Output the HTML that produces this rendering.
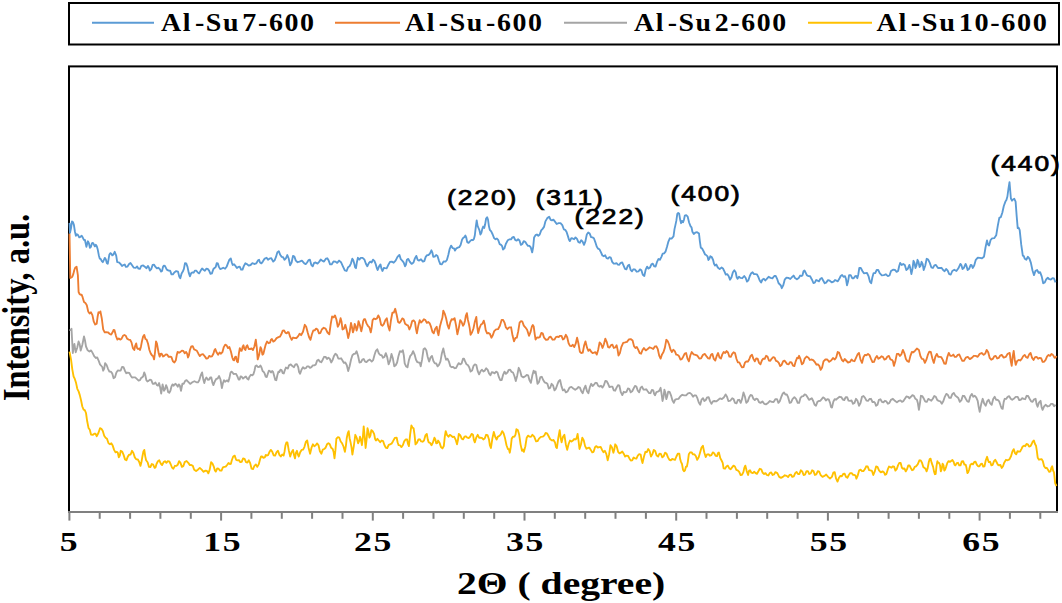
<!DOCTYPE html>
<html><head><meta charset="utf-8"><style>
html,body{margin:0;padding:0;background:#fff;width:1062px;height:603px;overflow:hidden}
svg{display:block}
.tl{font-family:"Liberation Serif",serif;font-weight:bold;font-size:26px;fill:#000}
.lg{font-family:"Liberation Serif",serif;font-weight:bold;font-size:26px;fill:#000;letter-spacing:1.5px;word-spacing:-6px}
.pk{font-family:"Liberation Sans",sans-serif;font-weight:normal;font-size:22px;fill:#000;stroke:#000;stroke-width:0.75px;letter-spacing:1.6px}
</style></head><body>
<svg width="1062" height="603" viewBox="0 0 1062 603">
<rect x="0" y="0" width="1062" height="603" fill="#fff"/>
<!-- legend -->
<rect x="69" y="3" width="990" height="41.5" fill="none" stroke="#000" stroke-width="2"/>
<line x1="92" y1="22.7" x2="154" y2="22.7" stroke="#5B9BD5" stroke-width="2"/>
<line x1="335" y1="22.7" x2="400" y2="22.7" stroke="#ED7D31" stroke-width="2"/>
<line x1="564" y1="22.7" x2="627" y2="22.7" stroke="#A5A5A5" stroke-width="2"/>
<line x1="808" y1="22.7" x2="872" y2="22.7" stroke="#FFC000" stroke-width="2"/>
<g class="lg">
<text transform="translate(161 31) scale(1.077 1)">Al<tspan dx="2.5">-Su</tspan> 7-600</text>
<text transform="translate(405 31) scale(1.072 1)">Al<tspan dx="2.5">-Su</tspan> -600</text>
<text transform="translate(634 31) scale(1.07 1)">Al<tspan dx="2.5">-Su</tspan> 2-600</text>
<text transform="translate(876.5 31) scale(1.088 1)">Al<tspan dx="2.5">-Su</tspan> 10-600</text>
</g>
<!-- plot frame -->
<rect x="69" y="66.4" width="988" height="445.6" fill="none" stroke="#000" stroke-width="2"/>
<path d="M69.5 351.6 L71.1 359.9 L72.3 369.3 L73.6 376.5 L74.8 378.9 L76.1 383.1 L77.3 388.8 L78.6 391.4 L79.8 395.1 L81.1 400.5 L82.3 406.5 L83.6 409.7 L84.8 410.2 L86.0 413.0 L87.2 421.3 L88.5 427.9 L89.8 429.8 L91.0 434.5 L92.7 434.9 L94.3 433.7 L95.5 433.7 L96.8 436.2 L98.4 433.0 L100.0 428.2 L101.4 428.8 L102.8 431.1 L104.2 435.7 L105.6 437.7 L107.0 438.8 L108.5 443.3 L109.9 444.2 L111.3 443.3 L112.7 445.6 L114.1 449.9 L115.5 452.4 L116.9 451.8 L117.8 452.7 L118.8 457.4 L119.8 455.5 L120.7 450.8 L122.1 451.5 L123.5 454.6 L125.0 459.4 L126.4 460.3 L127.8 456.6 L129.2 454.6 L130.6 454.5 L132.0 450.8 L133.4 453.0 L134.8 457.4 L136.2 459.3 L137.7 459.3 L139.1 461.7 L140.5 465.9 L141.4 462.3 L142.4 456.5 L143.4 451.5 L144.3 449.9 L145.2 456.1 L146.1 460.3 L147.6 462.2 L149.0 466.9 L150.4 467.0 L151.8 464.0 L153.2 464.7 L154.6 467.8 L155.6 467.3 L156.5 464.0 L157.9 461.3 L159.3 460.3 L160.7 463.5 L162.1 465.0 L163.6 462.1 L165.0 461.2 L166.4 462.8 L167.8 461.2 L169.2 461.3 L170.6 464.0 L172.0 467.5 L173.4 468.7 L174.9 465.8 L176.3 465.9 L177.7 464.8 L179.1 461.2 L180.5 462.9 L181.9 466.9 L183.3 466.2 L184.7 462.1 L186.6 461.0 L188.5 463.1 L189.9 465.1 L191.3 465.0 L192.8 465.9 L194.2 469.7 L196.1 471.1 L197.9 469.7 L199.8 467.9 L201.7 469.7 L203.6 471.8 L205.5 470.6 L206.9 470.9 L208.3 473.4 L209.7 469.7 L211.1 462.1 L212.5 463.6 L213.9 466.9 L214.9 470.5 L215.8 471.6 L217.2 468.5 L218.6 468.7 L220.1 470.6 L221.5 470.6 L222.9 467.4 L224.3 466.9 L225.7 466.7 L227.1 465.0 L228.5 462.9 L229.9 464.0 L230.9 463.8 L231.8 460.3 L233.2 456.5 L234.7 455.6 L236.1 459.8 L237.5 460.3 L238.9 460.1 L240.3 462.1 L241.7 461.8 L243.1 458.4 L244.6 458.8 L246.0 462.1 L247.4 462.6 L248.8 460.3 L250.2 463.2 L251.6 468.7 L253.0 469.1 L254.4 465.9 L255.9 464.5 L257.3 466.9 L258.7 464.4 L260.1 459.3 L261.1 456.4 L262.0 456.5 L263.4 457.8 L264.8 457.4 L265.8 454.9 L266.7 455.6 L268.1 455.2 L269.5 451.8 L270.9 449.9 L272.3 451.8 L273.7 455.4 L275.1 455.6 L276.6 452.1 L278.0 450.8 L279.4 454.9 L280.8 456.5 L282.2 454.5 L283.6 455.6 L284.6 451.2 L285.5 445.2 L286.4 442.5 L287.4 442.4 L288.8 450.4 L290.2 456.5 L291.6 452.3 L293.0 449.9 L294.0 455.0 L295.0 458.4 L295.9 452.9 L296.9 450.8 L297.9 454.6 L298.8 456.5 L300.2 452.2 L301.6 449.9 L303.0 449.7 L304.4 447.1 L305.8 442.0 L307.2 440.5 L308.6 447.9 L310.1 453.7 L311.5 447.7 L312.9 444.3 L314.3 446.2 L315.7 445.2 L317.1 443.4 L318.5 445.2 L319.9 451.2 L321.4 453.7 L322.8 449.6 L324.2 449.0 L325.6 447.7 L327.0 444.3 L328.4 443.1 L329.8 444.3 L331.2 447.8 L332.7 449.0 L333.6 451.9 L334.5 458.4 L335.4 450.4 L336.4 438.6 L337.9 437.2 L339.3 437.7 L340.7 441.5 L342.1 443.3 L343.5 446.5 L344.9 451.8 L345.9 445.8 L346.8 437.7 L347.8 433.1 L348.7 431.1 L349.6 438.2 L350.6 442.4 L351.5 447.4 L352.4 454.6 L353.9 445.5 L355.3 434.8 L356.7 437.8 L358.1 443.3 L359.1 441.2 L360.0 436.7 L360.9 439.5 L361.9 445.2 L362.8 437.7 L363.7 426.4 L364.6 435.6 L365.6 448.0 L366.6 439.5 L367.5 428.2 L368.4 431.5 L369.4 437.7 L370.4 435.5 L371.3 430.1 L372.7 431.2 L374.1 433.9 L375.1 439.0 L376.0 440.5 L377.4 438.8 L378.8 440.5 L380.2 442.3 L381.6 440.5 L383.1 441.1 L384.5 445.2 L385.9 447.8 L387.3 448.0 L388.7 444.9 L390.1 444.3 L391.5 443.7 L392.9 441.4 L394.8 438.0 L396.7 437.7 L397.6 442.3 L398.6 445.2 L400.0 445.3 L401.4 447.1 L402.8 445.3 L404.2 441.4 L405.6 439.5 L407.1 439.5 L408.0 444.0 L408.9 446.1 L410.1 434.9 L411.4 425.4 L412.5 427.6 L413.6 428.2 L414.6 435.3 L415.5 444.3 L416.9 442.8 L418.4 439.5 L419.8 439.3 L421.2 441.4 L422.6 441.7 L424.0 440.5 L425.4 435.4 L426.8 433.9 L427.8 439.6 L428.7 442.4 L430.1 442.9 L431.5 445.2 L432.9 442.5 L434.4 437.7 L435.3 439.3 L436.2 443.3 L437.1 443.1 L438.1 440.5 L439.6 442.9 L441.0 447.1 L442.4 448.4 L443.8 446.1 L444.8 436.7 L445.7 431.1 L447.1 435.2 L448.5 436.7 L449.9 434.9 L451.3 435.8 L452.7 437.1 L454.1 436.7 L455.6 439.6 L457.0 444.3 L457.9 440.3 L458.8 433.9 L460.2 435.2 L461.7 438.6 L463.1 439.4 L464.5 436.7 L465.9 436.3 L467.3 437.7 L468.7 438.0 L470.1 436.7 L471.6 433.9 L473.0 434.8 L473.9 440.0 L474.8 442.4 L476.2 437.7 L477.7 434.8 L479.1 437.7 L480.5 437.7 L481.9 437.8 L483.3 439.5 L484.7 438.5 L486.1 434.8 L487.6 435.2 L489.0 439.5 L489.9 445.5 L490.9 448.0 L492.4 438.4 L493.8 432.0 L495.2 436.8 L496.6 439.5 L498.0 436.5 L499.4 435.8 L500.8 434.4 L502.2 431.1 L503.6 433.2 L505.1 438.6 L506.5 445.2 L507.9 449.0 L508.9 449.2 L509.8 452.7 L510.8 446.8 L511.7 438.6 L513.1 436.6 L514.5 436.7 L515.5 434.7 L516.4 429.2 L517.8 430.1 L519.2 434.8 L520.6 444.6 L522.0 450.8 L523.0 449.6 L523.9 451.8 L525.3 446.5 L526.7 437.7 L528.1 435.6 L529.5 436.7 L531.0 436.8 L532.4 434.8 L534.2 436.7 L536.1 441.4 L537.5 441.2 L539.0 438.6 L540.9 436.9 L542.7 436.7 L544.2 435.6 L545.6 433.0 L547.0 433.3 L548.4 435.8 L550.2 439.2 L552.1 440.5 L553.5 439.9 L555.0 442.4 L556.0 447.1 L556.9 448.0 L558.3 437.8 L559.7 430.1 L560.7 438.1 L561.6 442.4 L563.0 436.7 L564.4 434.8 L565.8 444.2 L567.2 449.9 L568.6 444.0 L570.0 440.5 L571.5 441.5 L572.9 440.5 L574.3 439.0 L575.7 439.5 L576.7 437.7 L577.6 433.9 L578.5 440.5 L579.5 449.0 L580.9 444.8 L582.3 437.7 L583.7 440.1 L585.1 446.1 L586.5 448.8 L587.9 448.0 L589.3 447.6 L590.8 449.9 L592.2 452.4 L593.6 451.8 L595.0 447.2 L596.4 446.1 L597.8 447.5 L599.2 447.1 L600.7 447.0 L602.1 449.9 L603.5 452.2 L604.9 450.8 L606.3 453.9 L607.7 460.3 L609.1 454.4 L610.5 445.2 L612.0 447.6 L613.4 452.7 L614.3 449.5 L615.2 444.3 L616.7 446.4 L618.1 451.8 L619.5 453.4 L620.9 452.7 L622.3 451.5 L623.7 453.7 L625.1 456.6 L626.5 455.6 L628.0 455.8 L629.4 458.4 L630.8 460.6 L632.2 460.3 L633.6 457.5 L635.0 458.4 L636.4 458.6 L637.8 455.6 L639.2 454.1 L640.7 454.6 L641.6 459.8 L642.5 463.1 L644.0 456.5 L645.4 451.8 L646.8 452.2 L648.2 449.0 L649.6 451.0 L651.0 456.5 L652.4 454.1 L653.8 449.9 L655.2 451.0 L656.7 455.6 L658.1 456.6 L659.5 453.7 L660.9 454.0 L662.3 457.4 L663.7 456.2 L665.1 452.7 L666.5 453.6 L668.0 457.4 L669.4 459.8 L670.8 460.3 L672.2 459.0 L673.6 459.3 L675.0 459.8 L676.4 456.5 L677.8 453.6 L679.3 453.7 L680.2 459.3 L681.1 462.1 L682.0 464.0 L683.0 469.7 L684.0 471.3 L685.0 470.3 L686.0 466.6 L686.9 466.5 L687.8 462.1 L688.8 454.3 L690.2 452.3 L691.6 452.4 L693.0 454.4 L694.4 454.3 L695.8 456.0 L697.2 459.9 L698.7 457.2 L700.1 452.4 L701.5 447.6 L702.9 445.8 L704.3 452.5 L705.7 457.1 L707.1 454.4 L708.5 454.3 L710.0 455.7 L711.4 455.2 L712.8 452.4 L714.2 453.3 L715.6 455.9 L717.0 456.1 L718.0 453.0 L718.9 452.4 L720.3 458.1 L721.7 460.8 L722.7 462.8 L723.6 468.4 L725.0 468.7 L726.4 466.5 L727.8 465.6 L729.3 468.4 L730.7 469.3 L732.1 467.4 L733.5 465.6 L734.9 466.5 L736.3 469.8 L737.7 470.3 L739.2 471.9 L740.6 475.0 L742.0 474.8 L743.4 472.1 L744.3 467.9 L745.3 465.6 L746.7 471.1 L748.1 475.0 L749.0 470.9 L750.0 470.3 L751.4 472.7 L752.8 473.1 L754.2 471.8 L755.6 473.1 L757.0 473.8 L758.4 471.2 L759.8 468.8 L761.3 469.3 L762.7 472.8 L764.1 474.0 L765.5 473.1 L766.9 475.0 L768.3 475.5 L769.7 473.1 L771.2 472.4 L772.6 475.0 L774.0 474.4 L775.4 472.1 L777.3 473.1 L779.2 476.9 L781.0 477.9 L782.9 476.9 L784.8 475.3 L786.7 475.9 L788.1 477.1 L789.5 475.0 L790.9 474.6 L792.3 476.9 L793.8 476.4 L795.2 473.1 L796.6 471.9 L798.0 474.0 L799.4 474.0 L800.8 470.3 L802.2 471.4 L803.6 475.0 L805.0 474.6 L806.5 471.2 L807.9 471.2 L809.3 474.0 L810.7 473.5 L812.1 470.3 L813.5 471.1 L814.9 475.0 L816.3 474.4 L817.8 471.2 L819.2 471.7 L820.6 475.0 L822.5 476.8 L824.4 475.9 L826.2 474.5 L828.1 476.9 L830.0 478.5 L831.9 476.9 L833.3 472.7 L834.7 472.1 L836.1 478.7 L837.5 481.6 L839.0 477.7 L840.4 475.9 L841.8 476.4 L843.2 474.0 L844.6 473.6 L846.0 476.9 L847.4 477.7 L848.8 475.0 L850.2 473.1 L851.7 473.1 L853.1 474.9 L854.5 475.0 L855.5 475.6 L856.4 478.7 L857.8 475.3 L859.2 470.3 L860.6 469.7 L862.0 471.2 L863.4 471.1 L864.8 469.3 L866.2 466.3 L867.7 466.5 L869.1 470.1 L870.5 470.3 L871.9 470.8 L873.3 475.0 L874.7 471.7 L876.1 466.5 L877.5 466.8 L879.0 470.3 L880.8 472.4 L882.6 471.4 L883.9 472.2 L885.1 474.8 L886.4 474.1 L887.7 469.7 L889.0 466.5 L890.3 467.1 L891.6 467.7 L892.9 466.3 L894.1 466.6 L895.4 470.6 L896.7 469.2 L898.0 465.4 L899.3 462.8 L900.6 462.8 L901.9 467.7 L903.1 468.8 L904.4 468.4 L905.7 471.4 L907.0 469.3 L908.3 465.4 L909.5 465.4 L910.8 468.0 L912.1 470.2 L913.4 469.7 L914.7 466.8 L916.0 466.3 L917.7 464.3 L919.4 460.3 L920.7 460.4 L922.0 462.8 L923.3 467.0 L924.6 468.0 L925.6 468.9 L926.6 471.4 L927.7 468.1 L928.8 462.0 L929.7 459.0 L930.6 458.6 L931.5 462.4 L932.3 464.6 L933.1 466.9 L934.0 471.4 L934.9 474.2 L935.7 474.0 L936.5 466.2 L937.4 461.1 L938.2 462.8 L939.1 462.8 L940.0 465.2 L940.8 471.4 L941.7 469.2 L942.6 463.7 L943.5 465.2 L944.3 470.6 L945.1 469.7 L946.0 467.1 L947.3 463.0 L948.6 461.1 L949.9 461.9 L951.1 461.1 L952.4 459.9 L953.7 462.0 L954.5 464.8 L955.4 465.4 L956.7 463.2 L958.0 462.8 L959.2 465.4 L960.5 465.4 L961.8 461.4 L963.1 461.1 L964.4 464.6 L965.7 464.6 L966.5 467.8 L967.4 473.1 L968.2 472.3 L969.1 469.7 L970.4 464.8 L971.7 463.7 L973.0 464.3 L974.3 462.0 L975.5 461.7 L976.8 464.6 L978.1 466.3 L979.4 466.3 L980.7 464.2 L982.0 463.7 L983.2 466.6 L984.5 466.3 L985.8 460.3 L987.1 456.8 L988.0 460.2 L988.8 462.0 L990.1 461.8 L991.4 465.4 L992.7 464.8 L994.0 461.1 L995.2 459.8 L996.5 462.0 L997.8 464.6 L999.1 465.4 L1000.4 464.9 L1001.7 468.0 L1003.0 466.2 L1004.2 462.8 L1006.0 459.8 L1007.7 460.3 L1009.4 459.4 L1011.1 456.0 L1012.4 451.4 L1013.7 449.1 L1015.0 453.1 L1016.2 454.3 L1017.5 451.1 L1018.8 451.7 L1020.1 451.5 L1021.4 449.1 L1022.7 446.5 L1024.0 445.7 L1025.2 446.2 L1026.5 444.0 L1027.8 444.3 L1029.1 446.6 L1030.4 446.2 L1031.7 444.0 L1032.8 441.4 L1033.9 440.6 L1035.0 444.0 L1036.0 445.7 L1036.8 450.7 L1037.7 457.7 L1039.0 459.7 L1040.2 459.4 L1041.5 459.1 L1042.8 461.1 L1044.1 466.2 L1045.4 468.0 L1046.7 467.8 L1048.0 469.7 L1049.2 471.9 L1050.5 471.4 L1051.3 467.9 L1052.2 466.3 L1053.1 470.5 L1054.0 472.3 L1055.2 483.4 L1056.5 486.0" fill="none" stroke="#FFC000" stroke-width="1.85" stroke-linejoin="round"/>
<path d="M69.5 330.0 L70.5 330.1 L71.5 328.7 L72.8 353.0 L73.6 347.4 L74.4 344.0 L75.7 352.3 L77.2 347.7 L78.6 341.5 L79.7 344.4 L80.7 350.6 L82.3 345.0 L84.0 336.5 L85.0 340.5 L86.0 346.5 L87.7 350.3 L89.4 351.5 L91.1 350.4 L92.7 353.1 L94.3 356.4 L96.0 358.0 L97.2 357.4 L98.5 360.3 L100.0 364.4 L101.4 366.0 L102.3 367.0 L103.2 370.7 L104.2 368.7 L105.1 363.2 L106.5 364.8 L108.0 368.8 L109.4 371.6 L110.8 371.6 L112.2 373.3 L113.6 378.2 L115.0 377.3 L116.4 372.6 L117.8 370.5 L119.3 370.7 L120.7 370.5 L122.1 366.9 L123.5 367.2 L124.9 370.7 L126.3 373.2 L127.7 372.6 L129.2 372.8 L130.6 375.4 L132.0 377.5 L133.4 377.3 L135.2 377.4 L137.1 379.2 L138.6 380.6 L140.0 380.2 L141.1 378.0 L142.1 377.4 L143.1 376.5 L144.2 372.4 L145.3 375.2 L146.4 380.2 L147.4 381.5 L148.5 380.9 L149.9 379.7 L151.3 380.2 L152.7 383.7 L154.1 383.7 L155.5 382.6 L156.9 385.1 L158.0 385.6 L159.1 383.0 L160.1 387.2 L161.2 393.6 L162.6 384.4 L164.0 390.8 L165.1 389.0 L166.1 385.1 L167.1 387.5 L168.2 392.2 L169.3 392.8 L170.4 390.8 L171.4 386.7 L172.5 384.4 L173.6 385.7 L174.6 384.4 L175.6 383.7 L176.7 385.1 L177.8 386.7 L178.8 384.4 L179.9 385.7 L181.0 390.8 L182.4 383.7 L183.8 383.7 L185.2 380.9 L186.6 380.2 L188.0 381.6 L190.2 383.9 L192.3 382.3 L194.4 381.2 L196.5 382.3 L197.9 382.4 L199.3 380.2 L200.7 375.5 L202.1 372.4 L203.2 378.9 L204.3 383.0 L205.4 378.9 L206.4 377.4 L207.8 379.8 L209.2 379.5 L210.2 377.5 L211.3 377.4 L212.4 382.6 L213.4 385.1 L214.9 381.2 L216.3 378.8 L217.7 378.5 L219.1 376.0 L220.5 379.5 L221.9 388.0 L222.9 383.2 L224.0 380.2 L225.1 381.8 L226.2 380.9 L227.2 380.4 L228.3 381.6 L229.4 378.1 L230.4 373.1 L231.4 371.6 L232.5 372.4 L233.6 374.1 L234.6 373.8 L236.1 373.8 L237.5 376.7 L238.6 379.5 L239.6 379.5 L240.6 376.4 L241.7 376.7 L243.1 378.6 L244.5 377.4 L245.9 376.5 L247.3 378.8 L248.4 379.6 L249.5 376.7 L250.9 374.8 L252.3 375.3 L253.4 374.3 L254.4 371.0 L255.4 366.3 L256.5 365.4 L257.9 367.0 L259.3 366.8 L260.4 365.5 L261.5 367.5 L262.6 371.1 L263.6 371.7 L264.6 373.4 L265.7 376.7 L266.8 377.0 L267.8 373.8 L268.9 370.6 L269.9 371.0 L271.0 372.5 L272.1 371.0 L273.1 371.9 L274.2 376.0 L275.2 379.8 L276.3 380.2 L277.4 375.0 L278.4 371.7 L279.4 372.0 L280.5 369.6 L281.6 370.0 L282.7 373.1 L283.8 373.5 L284.8 370.3 L285.9 367.5 L286.9 368.2 L287.9 368.5 L289.0 365.4 L290.8 364.4 L292.6 366.3 L294.0 367.2 L295.4 364.4 L296.8 364.2 L298.2 367.2 L299.1 372.1 L300.1 373.8 L301.6 369.5 L303.0 367.2 L304.4 368.5 L305.8 368.2 L307.2 366.3 L308.6 366.3 L310.0 367.9 L311.4 367.2 L312.9 365.4 L314.3 365.3 L315.7 364.7 L317.1 360.6 L318.5 359.7 L319.9 361.6 L321.3 362.2 L322.7 359.7 L324.1 356.8 L325.6 356.9 L327.0 358.9 L328.4 357.8 L329.8 358.8 L331.2 362.5 L332.6 360.0 L334.0 355.9 L335.4 353.7 L336.9 355.0 L338.3 358.5 L339.7 358.7 L341.1 358.3 L342.5 360.6 L343.9 362.9 L345.3 362.5 L346.8 365.2 L348.2 371.0 L349.6 366.2 L351.0 359.7 L352.4 355.2 L353.8 354.0 L355.2 353.7 L356.6 351.2 L358.1 356.0 L359.5 362.5 L360.9 362.2 L362.3 359.7 L363.7 359.0 L365.1 361.6 L366.5 362.1 L367.9 360.6 L369.8 359.5 L371.7 361.6 L373.1 360.2 L374.5 355.0 L375.9 350.8 L377.3 349.3 L378.8 353.4 L380.2 355.0 L381.6 355.1 L383.0 357.8 L384.4 357.0 L385.8 353.1 L387.2 357.1 L388.6 364.4 L390.1 360.7 L391.5 354.0 L392.9 358.6 L394.3 366.3 L395.7 365.2 L397.1 362.5 L398.5 355.9 L399.9 351.2 L401.4 351.8 L402.8 350.3 L403.8 355.2 L404.7 363.4 L406.1 366.4 L407.5 367.2 L408.9 360.1 L410.3 355.9 L411.7 354.3 L413.1 351.2 L414.6 354.6 L416.0 359.7 L417.4 362.2 L418.8 362.5 L419.8 362.8 L420.7 366.3 L422.1 359.4 L423.5 349.3 L424.9 348.2 L426.3 350.3 L427.7 357.0 L429.1 361.6 L430.6 357.4 L432.0 355.9 L433.4 361.0 L434.8 363.4 L436.2 363.5 L437.6 366.3 L439.0 364.8 L440.4 361.6 L441.9 353.2 L443.3 348.4 L444.7 355.0 L446.1 359.7 L447.5 358.7 L448.9 361.6 L450.3 366.3 L451.7 367.2 L453.1 366.9 L454.6 368.2 L456.0 368.1 L457.4 365.3 L458.8 363.1 L460.2 364.4 L461.6 363.5 L463.0 358.7 L464.0 358.7 L465.0 361.2 L466.4 364.2 L467.8 365.0 L469.2 367.3 L470.6 371.6 L472.1 370.6 L473.5 365.9 L474.9 364.4 L476.3 365.0 L477.7 371.1 L479.1 374.4 L480.6 371.1 L482.0 369.7 L483.4 371.5 L484.8 370.6 L486.2 368.3 L487.6 369.7 L489.0 373.4 L490.4 375.3 L491.8 372.2 L493.2 372.5 L494.6 373.4 L496.1 371.6 L497.5 372.6 L498.9 377.2 L500.3 380.2 L501.7 380.0 L503.1 374.8 L504.5 371.6 L505.9 373.9 L507.4 372.5 L508.8 369.8 L510.2 369.7 L511.6 371.9 L513.0 372.5 L514.4 376.0 L515.8 381.0 L517.2 375.7 L518.7 367.8 L520.1 370.8 L521.5 376.3 L523.4 377.4 L525.3 376.3 L526.7 374.9 L528.1 375.3 L529.5 380.3 L530.9 382.9 L532.3 375.6 L533.7 370.6 L534.7 372.9 L535.6 371.6 L536.5 376.9 L537.5 383.8 L538.9 382.2 L540.3 377.2 L541.8 376.8 L543.2 380.0 L544.6 382.3 L546.0 382.9 L547.4 383.8 L548.8 388.5 L550.2 387.8 L551.6 383.8 L553.0 385.3 L554.5 390.4 L555.9 388.6 L557.3 384.7 L558.7 381.2 L560.1 380.0 L561.5 386.4 L562.9 390.4 L564.3 389.4 L565.8 392.3 L567.6 391.4 L569.5 387.6 L571.4 386.9 L573.3 388.5 L575.2 389.8 L577.1 388.5 L578.5 387.0 L579.9 387.6 L581.3 391.2 L582.7 393.2 L584.1 388.6 L585.5 385.7 L587.0 391.2 L588.4 393.2 L589.8 387.4 L591.2 383.8 L592.6 386.1 L594.0 384.7 L595.4 382.8 L596.8 382.9 L598.2 385.8 L599.6 386.6 L601.0 385.7 L602.5 387.6 L603.9 385.3 L605.3 381.0 L606.7 381.2 L608.1 383.8 L609.5 387.1 L611.0 386.6 L612.4 386.7 L613.8 390.4 L615.2 390.7 L616.6 387.6 L618.0 385.1 L619.4 385.7 L620.8 392.2 L622.3 395.1 L623.7 391.8 L625.1 392.3 L626.5 391.8 L627.9 388.5 L629.3 388.8 L630.7 392.3 L632.2 391.2 L633.6 388.5 L635.0 385.9 L636.4 386.6 L637.8 390.7 L639.2 392.3 L640.6 387.8 L642.0 386.6 L643.5 389.6 L644.9 389.5 L646.3 389.3 L647.7 391.3 L649.1 393.1 L650.5 393.2 L651.9 389.9 L653.3 390.4 L654.1 393.8 L655.0 395.3 L656.4 392.1 L657.8 391.6 L659.2 390.9 L660.6 387.8 L661.5 393.3 L662.5 401.0 L663.5 397.0 L664.4 389.7 L665.3 392.5 L666.3 399.1 L667.2 396.4 L668.2 391.6 L669.6 391.9 L671.0 395.3 L672.4 400.2 L673.8 402.9 L675.2 399.6 L676.7 399.1 L678.5 398.9 L680.4 396.3 L682.3 394.8 L684.2 395.3 L686.1 395.3 L688.0 393.4 L689.9 392.9 L691.7 394.4 L693.1 396.7 L694.5 395.3 L696.0 395.4 L697.4 398.2 L698.8 402.5 L700.2 404.7 L701.6 399.6 L703.0 398.2 L704.4 401.0 L705.8 400.0 L707.2 397.3 L708.7 397.2 L710.1 401.4 L711.5 403.8 L712.9 401.4 L714.3 401.0 L716.2 401.4 L718.1 400.0 L720.0 398.4 L721.9 399.1 L723.8 397.6 L725.6 394.4 L727.0 396.7 L728.4 401.0 L730.3 400.7 L732.2 398.2 L733.6 399.1 L735.0 402.9 L736.5 403.3 L737.9 400.0 L739.3 399.8 L740.7 402.9 L742.1 398.9 L743.5 392.5 L744.9 396.5 L746.3 402.9 L747.8 401.4 L749.2 397.2 L750.6 395.0 L752.0 395.3 L753.4 398.8 L754.8 400.0 L756.2 398.7 L757.6 399.1 L759.0 402.1 L760.5 402.9 L762.4 401.4 L764.2 403.8 L766.1 404.3 L768.0 402.9 L769.9 401.0 L771.8 401.9 L773.6 402.0 L775.5 399.1 L777.0 399.2 L778.4 402.9 L779.8 401.1 L781.2 397.2 L782.6 393.8 L784.0 392.5 L785.4 394.5 L786.8 394.4 L788.2 397.4 L789.7 402.9 L791.1 402.3 L792.5 399.1 L794.4 397.2 L796.2 399.1 L797.7 402.8 L799.1 402.9 L800.5 397.8 L801.9 396.3 L803.3 396.1 L804.7 394.4 L806.1 395.0 L807.5 397.2 L809.0 399.8 L810.4 399.1 L811.8 398.2 L813.2 401.0 L814.6 404.7 L816.0 405.7 L817.4 401.9 L818.8 401.0 L820.2 400.8 L821.7 399.1 L823.1 397.4 L824.5 398.2 L825.9 400.5 L827.3 399.1 L828.7 399.3 L830.1 402.9 L831.0 407.0 L832.0 407.6 L833.4 401.4 L834.8 399.1 L836.2 399.7 L837.7 398.2 L839.5 396.8 L841.4 397.2 L842.8 399.5 L844.3 400.0 L845.7 397.2 L847.1 397.2 L848.5 400.6 L850.0 400.8 L851.5 400.4 L853.0 403.8 L854.5 402.9 L856.0 398.8 L857.5 400.8 L859.0 405.8 L860.5 403.0 L862.0 396.8 L863.5 396.0 L865.0 397.8 L866.5 400.7 L868.0 400.8 L869.5 399.0 L871.0 398.8 L872.5 402.0 L874.0 401.8 L875.0 402.8 L876.0 405.8 L877.5 404.7 L878.9 399.8 L880.4 399.3 L881.9 401.8 L883.4 402.4 L884.9 400.8 L886.4 401.4 L887.9 403.8 L889.4 402.9 L890.9 399.8 L892.9 398.8 L894.9 400.8 L896.9 402.4 L898.9 400.8 L900.4 400.4 L901.9 401.8 L903.4 401.1 L904.9 398.8 L906.4 396.4 L907.9 396.8 L909.4 398.2 L910.9 396.8 L912.4 395.1 L913.9 395.8 L915.4 398.8 L916.9 399.8 L917.9 403.3 L918.9 409.8 L919.9 403.6 L920.9 395.8 L922.4 396.2 L923.9 398.8 L925.3 401.6 L926.8 401.8 L928.3 398.9 L929.8 399.8 L931.3 400.8 L932.8 398.8 L934.3 396.0 L935.8 396.8 L937.3 400.1 L938.8 400.8 L940.3 401.3 L941.8 403.8 L943.3 401.3 L944.8 396.8 L946.3 393.9 L947.8 394.8 L949.3 397.9 L950.8 397.8 L952.3 394.2 L953.8 392.9 L955.3 395.6 L956.8 396.8 L958.3 398.0 L959.8 401.8 L961.3 400.4 L962.8 395.8 L964.3 396.0 L965.8 398.8 L967.3 401.4 L968.8 401.8 L970.3 396.3 L971.8 393.9 L973.3 396.7 L974.8 395.8 L976.2 397.3 L977.7 400.8 L978.7 407.1 L979.7 411.8 L981.2 404.1 L982.7 398.8 L984.2 403.6 L985.7 405.8 L987.2 401.2 L988.7 399.8 L990.2 403.3 L991.7 404.8 L993.2 399.1 L994.7 396.8 L996.2 399.9 L997.7 399.8 L999.2 401.4 L1000.7 405.8 L1001.7 408.3 L1002.7 408.8 L1003.7 401.9 L1004.7 398.8 L1006.2 398.9 L1007.7 396.8 L1009.2 396.1 L1010.7 398.8 L1012.2 399.8 L1013.7 398.8 L1015.7 396.8 L1017.7 396.8 L1019.2 400.0 L1020.7 399.8 L1022.2 398.2 L1023.7 398.8 L1025.2 399.2 L1026.6 395.8 L1028.1 396.0 L1029.6 398.8 L1031.1 401.3 L1032.6 401.8 L1034.1 399.3 L1035.6 398.8 L1036.6 404.1 L1037.6 406.8 L1039.1 402.3 L1040.6 400.8 L1041.6 407.2 L1042.6 409.8 L1044.1 406.4 L1045.6 404.8 L1047.6 406.5 L1049.6 405.8 L1051.1 403.8 L1052.6 403.8 L1054.1 406.2 L1055.6 404.8" fill="none" stroke="#A5A5A5" stroke-width="1.85" stroke-linejoin="round"/>
<path d="M69.5 233.5 L70.3 278.0 L71.3 277.4 L72.3 276.7 L73.3 274.1 L74.3 270.0 L75.3 267.5 L76.6 266.8 L77.9 275.4 L78.6 292.0 L79.6 294.2 L80.6 294.7 L81.6 294.7 L82.6 297.2 L84.0 301.9 L85.4 302.9 L86.8 305.3 L88.2 311.4 L89.6 313.5 L91.0 312.3 L92.4 315.1 L93.8 321.7 L95.2 324.5 L96.7 323.6 L97.6 316.8 L98.5 312.3 L99.5 312.8 L100.4 311.4 L101.8 318.5 L103.2 329.3 L104.7 332.3 L106.1 332.1 L107.9 332.3 L109.8 334.0 L111.2 334.6 L112.7 332.1 L113.6 329.9 L114.5 330.2 L116.0 336.1 L117.4 339.6 L118.8 338.5 L120.2 339.6 L121.6 338.7 L123.0 335.8 L124.4 335.0 L125.8 335.8 L127.2 338.8 L128.7 339.6 L130.1 339.8 L131.5 342.4 L132.9 348.1 L134.3 350.0 L135.2 345.8 L136.2 343.4 L137.1 348.1 L138.1 349.0 L139.1 348.5 L140.0 350.0 L140.9 346.9 L141.9 341.5 L143.1 336.5 L144.3 334.9 L145.4 339.0 L146.6 339.6 L148.0 343.5 L149.4 350.0 L150.8 353.6 L152.2 355.6 L153.1 356.2 L154.1 359.4 L155.1 351.6 L156.0 341.5 L156.9 343.4 L157.9 349.0 L158.8 353.8 L159.7 356.6 L160.6 354.0 L161.6 353.7 L163.1 356.5 L164.5 355.6 L165.9 354.4 L167.3 354.7 L168.7 356.9 L170.1 356.6 L171.5 357.2 L172.9 361.3 L174.4 362.5 L175.8 360.3 L176.7 355.3 L177.6 351.9 L179.1 352.7 L180.5 351.9 L181.9 350.6 L183.3 350.9 L184.7 353.3 L186.1 351.9 L187.1 353.6 L188.0 357.5 L188.9 355.4 L189.9 350.0 L191.3 346.3 L192.7 346.2 L194.1 349.3 L195.5 350.0 L196.9 350.8 L198.4 353.7 L199.8 356.1 L201.2 354.7 L203.1 354.2 L205.0 356.6 L206.4 358.6 L207.8 358.4 L209.2 355.9 L210.6 356.6 L212.0 356.3 L213.4 353.7 L214.4 350.3 L215.3 349.0 L216.7 352.6 L218.1 354.7 L219.6 352.5 L221.0 353.7 L222.4 352.2 L223.8 347.1 L225.2 344.7 L226.6 345.3 L228.0 348.1 L229.4 347.1 L230.9 351.5 L232.3 357.5 L233.2 359.9 L234.1 360.3 L235.1 357.1 L236.0 356.6 L236.9 361.3 L237.9 362.2 L238.9 353.3 L239.8 348.1 L240.8 350.7 L241.7 350.9 L242.6 347.0 L243.5 345.3 L244.4 348.9 L245.4 350.0 L246.4 346.3 L247.3 345.3 L248.7 349.0 L250.1 349.0 L251.6 348.5 L253.0 350.0 L254.4 346.5 L255.8 339.6 L256.8 347.9 L257.7 359.4 L259.1 355.0 L260.5 347.1 L261.4 349.2 L262.4 354.7 L263.4 353.8 L264.3 350.0 L265.7 344.6 L267.1 341.5 L268.6 343.2 L270.0 342.7 L270.9 339.7 L271.9 339.0 L273.3 341.6 L274.7 340.8 L276.6 338.1 L278.5 337.1 L279.9 336.7 L281.3 334.3 L282.7 330.7 L284.1 330.5 L285.5 332.9 L286.9 333.3 L287.9 332.0 L288.8 332.4 L290.2 336.9 L291.7 339.9 L293.1 337.5 L294.5 338.0 L296.4 338.2 L298.2 336.1 L299.6 333.7 L301.1 335.2 L303.0 331.8 L304.8 324.8 L306.2 326.7 L307.7 332.4 L309.1 337.2 L310.5 339.9 L311.9 334.3 L313.3 330.5 L314.7 330.4 L316.1 328.6 L317.6 329.6 L319.0 333.3 L320.4 333.0 L321.8 329.5 L323.7 327.8 L325.6 328.6 L327.5 332.5 L329.3 334.3 L330.7 324.1 L332.1 316.4 L333.6 317.4 L335.0 315.4 L336.4 319.5 L337.8 326.7 L339.2 324.1 L340.6 318.2 L341.6 322.1 L342.5 329.5 L343.9 328.7 L345.3 324.8 L346.8 330.5 L348.2 338.0 L349.6 332.3 L351.0 323.0 L351.9 326.6 L352.9 332.4 L353.8 329.6 L354.7 323.9 L355.6 326.0 L356.6 330.5 L357.6 327.4 L358.5 321.1 L359.9 325.3 L361.3 331.4 L362.2 327.3 L363.2 321.1 L364.1 319.1 L365.1 319.2 L366.5 323.4 L367.9 325.8 L369.4 327.3 L370.8 332.4 L371.7 327.7 L372.6 320.1 L374.1 318.5 L375.5 319.2 L376.9 318.5 L378.3 315.4 L379.7 318.2 L381.1 324.8 L382.5 325.7 L383.9 323.9 L385.4 320.0 L386.8 318.2 L388.2 326.1 L389.6 330.5 L391.0 320.0 L392.4 312.6 L393.8 312.6 L395.2 308.8 L396.6 314.5 L398.1 322.0 L399.5 322.9 L400.9 321.1 L402.3 318.4 L403.7 319.2 L405.1 323.8 L406.5 324.8 L407.9 325.3 L409.4 329.5 L410.8 326.1 L412.2 321.1 L413.6 320.4 L415.0 322.0 L415.9 328.5 L416.9 333.3 L418.3 325.7 L419.7 320.1 L421.1 322.5 L422.5 321.1 L423.9 319.2 L425.4 320.1 L426.8 322.9 L428.2 322.0 L429.6 323.2 L431.0 326.7 L432.4 331.8 L433.8 333.3 L435.2 328.7 L436.7 326.7 L437.6 332.0 L438.5 335.2 L439.9 326.5 L441.4 321.1 L442.4 317.8 L443.3 310.7 L444.7 313.6 L446.1 318.2 L447.5 324.9 L448.9 328.6 L450.3 322.4 L451.7 319.2 L453.1 319.7 L454.6 318.2 L456.0 325.1 L457.4 334.3 L458.8 328.1 L460.2 320.1 L461.6 322.0 L463.0 325.8 L464.0 324.3 L465.0 320.7 L465.9 315.5 L466.9 313.2 L467.9 319.9 L468.8 323.5 L469.7 328.2 L470.6 334.8 L472.1 332.3 L473.5 328.2 L474.9 321.4 L476.3 316.9 L477.2 326.5 L478.2 333.0 L479.6 327.8 L481.0 324.5 L482.4 323.7 L483.8 320.7 L484.8 324.4 L485.7 330.1 L487.1 333.3 L488.5 333.0 L489.9 333.9 L491.4 337.7 L492.8 335.2 L494.2 331.1 L496.1 329.3 L498.0 329.2 L499.9 325.7 L501.7 319.8 L503.1 319.8 L504.5 322.6 L505.9 327.4 L507.4 329.2 L509.2 327.4 L511.1 327.3 L512.5 335.3 L514.0 341.4 L515.4 338.0 L516.8 337.7 L518.2 331.4 L519.6 322.6 L521.0 321.1 L522.4 321.7 L523.8 325.6 L525.3 327.3 L527.1 329.7 L529.0 335.8 L530.5 332.2 L531.9 326.4 L532.8 325.0 L533.7 326.4 L534.7 334.1 L535.6 339.5 L537.0 337.4 L538.4 337.7 L539.8 337.1 L541.3 333.0 L542.7 333.4 L544.1 337.7 L546.0 339.8 L547.9 339.5 L549.3 337.1 L550.7 336.7 L552.6 339.7 L554.5 339.5 L555.9 337.1 L557.3 336.7 L558.7 337.0 L560.1 335.8 L561.5 335.8 L562.9 339.5 L564.3 338.4 L565.8 334.8 L567.2 337.3 L568.6 343.3 L570.0 345.9 L571.4 346.1 L572.8 344.8 L574.2 347.1 L575.7 343.7 L577.1 337.7 L578.5 343.8 L579.9 351.8 L581.3 353.0 L582.7 352.7 L584.1 345.6 L585.5 341.4 L587.0 347.6 L588.4 350.8 L589.8 349.5 L591.2 351.8 L592.6 353.1 L594.0 352.7 L595.4 352.2 L596.8 354.6 L598.2 349.7 L599.6 342.4 L601.0 343.8 L602.5 348.0 L603.9 344.2 L605.3 338.6 L606.7 341.8 L608.1 347.1 L609.5 347.5 L611.0 345.2 L612.4 344.7 L613.8 348.0 L615.2 347.5 L616.6 345.2 L617.5 349.1 L618.5 355.6 L619.9 353.1 L621.3 347.1 L623.2 342.8 L625.1 342.4 L627.0 341.9 L628.8 339.5 L630.7 339.1 L632.6 340.5 L634.0 346.1 L635.4 348.0 L636.8 347.0 L638.3 349.9 L639.7 353.1 L641.1 353.7 L642.5 350.0 L643.9 348.0 L645.8 350.4 L647.7 349.0 L649.5 347.3 L651.4 348.0 L653.2 349.0 L655.0 346.4 L656.4 346.3 L657.8 349.2 L659.2 355.6 L660.6 358.6 L662.0 354.4 L663.5 352.0 L664.9 347.6 L666.3 339.8 L667.7 341.1 L669.1 344.5 L670.5 349.5 L671.9 352.0 L673.3 349.8 L674.8 351.1 L676.2 354.7 L677.6 354.8 L679.0 356.2 L680.4 359.5 L681.8 359.1 L683.2 356.7 L684.7 353.6 L686.1 353.0 L687.5 358.6 L688.9 361.4 L690.3 355.5 L691.7 352.0 L693.6 354.3 L695.5 354.8 L697.4 355.7 L699.3 358.6 L701.1 358.3 L703.0 354.8 L704.9 353.9 L706.8 356.7 L708.2 358.4 L709.6 358.6 L711.0 354.8 L712.4 353.9 L713.8 358.9 L715.3 360.5 L716.7 356.0 L718.1 353.0 L719.5 357.6 L720.9 358.6 L722.3 354.4 L723.7 352.0 L725.2 353.0 L726.6 351.1 L728.0 352.5 L729.4 356.7 L730.8 356.8 L732.2 353.9 L733.6 352.3 L735.0 353.0 L736.5 359.0 L737.9 362.4 L739.3 362.4 L740.7 365.2 L742.1 367.4 L743.5 367.1 L744.9 362.7 L746.3 361.4 L747.8 361.7 L749.2 359.5 L750.6 355.9 L752.0 354.8 L753.4 358.9 L754.8 361.4 L756.2 358.5 L757.6 358.6 L759.0 362.8 L760.5 364.3 L761.9 360.4 L763.3 358.6 L764.7 358.9 L766.1 355.8 L767.5 356.5 L768.9 360.5 L770.3 360.8 L771.8 358.6 L773.2 357.2 L774.6 357.7 L776.0 360.9 L777.4 361.4 L778.8 362.9 L780.2 366.1 L781.7 364.7 L783.1 361.4 L784.5 360.6 L785.9 362.4 L787.3 364.2 L788.7 364.3 L790.1 362.1 L791.5 362.4 L793.0 365.6 L794.4 366.1 L795.8 361.1 L797.2 357.7 L798.2 358.3 L799.1 355.8 L800.5 359.2 L801.9 364.3 L803.3 363.1 L804.7 358.6 L806.6 356.5 L808.5 357.7 L809.9 360.0 L811.3 359.5 L813.2 360.1 L815.1 362.4 L816.5 364.7 L817.9 364.3 L819.3 365.9 L820.7 369.9 L822.1 367.5 L823.5 361.4 L825.4 359.5 L827.3 359.5 L829.2 361.8 L831.1 360.5 L833.0 358.1 L834.8 359.5 L836.2 357.4 L837.7 352.0 L839.1 352.6 L840.5 356.7 L841.9 360.0 L843.3 361.4 L844.7 359.0 L846.1 360.5 L848.0 362.5 L850.0 361.9 L851.5 359.5 L853.0 360.9 L854.5 361.2 L856.0 357.9 L857.5 354.5 L859.0 352.9 L860.5 359.6 L862.0 362.9 L863.5 357.0 L865.0 354.9 L866.5 355.2 L868.0 353.9 L869.5 355.2 L871.0 358.9 L872.5 362.1 L874.0 361.9 L875.5 358.0 L876.9 355.9 L878.4 358.7 L879.9 357.9 L881.4 356.3 L882.9 356.9 L884.4 359.6 L885.9 358.9 L887.4 356.5 L888.9 355.9 L890.4 359.3 L891.9 359.9 L892.9 361.0 L893.9 365.9 L895.4 360.9 L896.9 353.9 L898.4 353.8 L899.9 355.9 L901.4 354.3 L902.9 349.9 L904.4 353.3 L905.9 358.9 L907.4 361.2 L908.9 361.9 L910.4 355.9 L911.9 351.9 L913.4 352.3 L914.9 350.9 L916.9 348.5 L918.9 349.9 L920.4 356.0 L921.9 358.9 L923.4 359.1 L924.9 362.9 L926.3 359.9 L927.8 354.9 L929.3 351.7 L930.8 351.9 L932.3 358.3 L933.8 362.9 L935.3 357.0 L936.8 353.9 L938.3 356.9 L939.8 356.9 L941.3 357.2 L942.8 359.9 L944.3 363.7 L945.8 363.9 L947.3 357.0 L948.8 352.9 L950.3 355.8 L951.8 355.9 L953.3 354.6 L954.8 356.9 L956.3 356.8 L957.8 354.9 L959.3 354.5 L960.8 357.9 L962.3 360.9 L963.8 360.9 L965.8 357.7 L967.8 356.9 L969.8 359.1 L971.8 357.9 L973.8 355.8 L975.7 355.9 L977.7 356.8 L979.7 353.9 L981.7 353.0 L983.7 354.9 L985.2 353.6 L986.7 349.9 L988.2 352.2 L989.7 357.9 L991.2 359.7 L992.7 358.9 L994.2 356.4 L995.7 355.9 L997.2 358.5 L998.7 357.9 L1000.2 355.6 L1001.7 354.9 L1003.7 357.6 L1005.7 356.9 L1007.7 353.8 L1009.7 352.9 L1010.7 360.9 L1011.7 365.9 L1012.7 356.5 L1013.7 350.9 L1014.7 359.4 L1015.7 364.9 L1017.2 360.9 L1018.7 359.9 L1020.2 360.5 L1021.7 358.9 L1023.2 356.1 L1024.7 354.9 L1026.2 357.2 L1027.6 357.9 L1029.1 354.5 L1030.6 352.9 L1032.1 357.9 L1033.6 359.9 L1035.1 357.1 L1036.6 356.9 L1038.1 358.8 L1039.6 357.9 L1041.1 358.1 L1042.6 361.9 L1044.1 361.8 L1045.6 359.9 L1047.1 356.4 L1048.6 354.9 L1050.1 355.9 L1051.6 353.9 L1053.1 355.1 L1054.6 357.9 L1055.5 357.7 L1056.5 356.0" fill="none" stroke="#ED7D31" stroke-width="1.85" stroke-linejoin="round"/>
<path d="M69.5 222.9 L70.0 232.9 L71.0 228.3 L72.0 221.4 L73.0 222.3 L73.9 224.9 L74.9 231.5 L75.9 235.8 L76.9 234.3 L77.9 234.9 L79.2 237.3 L80.4 236.8 L81.7 235.8 L82.9 237.8 L83.9 239.8 L84.9 239.8 L86.4 246.8 L87.9 241.3 L88.9 243.1 L89.9 247.8 L90.9 246.9 L91.9 243.3 L92.8 242.9 L93.8 244.3 L94.8 246.4 L95.8 244.8 L96.8 246.3 L97.8 249.8 L98.8 255.2 L99.8 258.7 L100.8 259.1 L101.8 261.2 L102.8 262.2 L103.8 260.2 L104.8 257.9 L105.8 259.2 L106.8 263.1 L107.8 263.7 L109.3 254.8 L110.3 253.1 L111.3 253.8 L112.2 255.4 L113.2 254.8 L114.7 251.8 L116.2 255.7 L117.2 262.1 L118.9 262.3 L120.6 264.0 L122.0 266.0 L123.4 265.0 L124.7 264.5 L125.9 266.9 L127.5 266.6 L129.1 264.0 L130.5 263.0 L131.9 265.0 L133.8 267.7 L135.7 267.8 L137.1 266.4 L138.5 268.7 L139.9 268.9 L141.3 265.9 L143.2 265.4 L145.1 266.9 L146.5 268.2 L147.9 265.9 L148.9 267.4 L149.8 270.6 L151.2 269.2 L152.6 265.0 L154.1 264.7 L155.5 266.9 L156.9 268.4 L158.3 267.8 L159.7 268.9 L161.1 271.6 L162.1 270.9 L163.0 266.9 L163.9 265.6 L164.9 265.9 L166.8 269.7 L168.6 270.6 L170.1 270.6 L171.5 274.4 L172.9 274.4 L174.3 272.5 L176.2 271.1 L178.0 271.6 L179.2 276.4 L180.3 278.2 L181.6 273.5 L182.8 271.6 L183.9 268.9 L185.0 263.1 L186.2 263.3 L187.5 266.9 L188.7 272.6 L189.9 276.3 L191.1 273.3 L192.2 272.5 L193.6 272.7 L195.0 270.6 L196.4 270.7 L197.8 272.5 L199.2 273.4 L200.7 270.6 L202.1 268.5 L203.5 269.7 L204.9 270.8 L206.3 268.7 L207.7 268.9 L209.1 270.6 L210.5 273.8 L211.9 273.4 L213.4 269.0 L214.8 267.8 L215.8 266.8 L216.7 263.1 L217.8 263.4 L218.9 266.9 L220.2 269.1 L221.4 268.7 L223.2 267.7 L225.1 268.7 L226.6 266.8 L228.0 263.1 L229.4 259.7 L230.8 258.4 L231.8 262.5 L232.7 265.0 L234.1 264.3 L235.5 265.9 L236.9 268.0 L238.3 266.9 L239.7 266.7 L241.1 269.7 L242.5 269.6 L243.9 265.9 L245.4 263.3 L246.8 264.0 L248.7 265.6 L250.6 265.0 L252.4 263.1 L254.3 264.0 L256.2 263.4 L258.1 260.3 L259.1 259.7 L260.0 262.5 L261.4 263.4 L262.8 261.6 L264.7 258.6 L266.6 257.8 L268.0 259.8 L269.4 258.7 L271.3 258.2 L273.2 261.6 L274.6 260.3 L276.0 256.9 L277.4 252.2 L278.8 251.2 L280.2 254.8 L281.7 256.9 L283.1 257.2 L284.5 259.7 L285.9 258.4 L287.3 255.0 L288.7 258.5 L290.1 265.3 L291.6 262.5 L293.0 255.9 L294.4 256.6 L295.8 260.6 L297.6 262.2 L299.5 261.6 L301.9 260.7 L304.3 263.4 L305.7 264.1 L307.1 262.5 L308.5 260.1 L309.9 259.7 L311.3 264.8 L312.7 266.3 L314.1 262.9 L315.6 262.5 L317.5 263.6 L319.3 261.6 L320.7 259.6 L322.1 260.6 L324.0 261.6 L325.9 258.7 L327.3 258.3 L328.7 260.6 L330.1 264.3 L331.6 264.4 L333.5 261.4 L335.3 261.6 L337.2 262.9 L339.1 260.6 L341.0 262.2 L342.9 266.3 L344.8 270.3 L346.6 271.0 L348.1 267.2 L349.5 266.3 L350.9 263.6 L352.3 258.7 L353.2 260.0 L354.2 263.4 L355.1 267.3 L356.0 268.2 L356.9 262.2 L357.9 257.8 L359.4 259.6 L360.8 257.8 L362.6 257.8 L364.5 259.7 L365.9 263.8 L367.3 266.3 L368.8 263.1 L370.2 261.6 L371.6 262.5 L373.0 259.7 L374.4 260.9 L375.8 264.4 L376.8 268.1 L377.7 270.0 L379.1 266.4 L380.5 264.4 L381.4 268.5 L382.4 271.0 L383.8 268.0 L385.2 268.2 L386.6 268.3 L388.1 265.3 L390.0 261.9 L391.8 261.6 L393.7 262.7 L395.6 260.6 L397.5 256.9 L399.4 254.9 L400.8 259.2 L402.2 260.6 L403.6 262.3 L405.0 266.3 L405.9 264.7 L406.9 259.7 L408.3 258.9 L409.7 261.6 L411.6 263.9 L413.5 262.5 L414.9 258.4 L416.3 255.9 L417.7 260.0 L419.1 260.6 L421.0 259.3 L422.9 261.6 L424.3 261.1 L425.7 256.9 L427.1 255.1 L428.5 255.0 L429.9 253.6 L431.4 250.3 L432.4 252.7 L433.3 256.9 L434.7 256.7 L436.1 255.0 L437.5 256.0 L438.9 260.6 L440.3 264.2 L441.7 264.4 L443.6 261.5 L445.5 261.6 L446.9 260.0 L448.3 255.0 L449.7 248.8 L451.1 245.6 L452.6 248.1 L454.0 248.4 L455.0 250.6 L456.4 248.3 L457.8 247.7 L459.2 247.2 L460.6 244.9 L462.1 239.5 L463.5 237.4 L464.4 237.4 L465.4 235.5 L466.3 237.7 L467.2 242.1 L468.6 242.9 L470.1 241.1 L471.5 239.9 L472.9 240.2 L473.9 238.9 L474.8 235.5 L475.8 226.9 L476.7 220.4 L477.6 225.8 L478.5 228.0 L479.4 230.1 L480.4 234.5 L481.4 232.8 L482.3 228.9 L483.2 226.5 L484.2 228.0 L485.1 224.6 L486.1 218.5 L487.1 217.2 L488.0 219.5 L488.9 226.1 L489.8 229.8 L491.2 231.4 L492.7 234.5 L494.1 238.1 L495.5 239.3 L496.9 238.5 L498.3 240.2 L499.7 244.2 L501.1 244.9 L502.1 246.1 L503.0 249.6 L504.4 248.4 L505.8 244.0 L507.7 240.3 L509.6 239.3 L511.0 239.4 L512.4 237.4 L513.8 237.0 L515.3 240.2 L516.7 240.6 L518.1 239.3 L519.5 240.4 L520.9 244.9 L522.3 244.0 L523.7 241.1 L525.2 241.8 L526.6 244.0 L528.0 245.9 L529.4 245.8 L530.8 247.4 L532.2 252.4 L533.2 246.8 L534.1 237.4 L535.5 235.2 L536.9 234.5 L538.3 235.8 L539.7 234.5 L541.2 230.4 L542.6 228.9 L544.0 226.9 L545.4 221.4 L547.3 218.1 L549.2 216.7 L550.6 219.9 L552.0 220.4 L553.4 219.7 L554.8 221.4 L556.7 224.0 L558.6 223.2 L560.5 223.1 L562.3 225.1 L563.8 229.3 L565.2 229.8 L566.6 232.0 L568.0 236.4 L569.0 239.8 L569.9 241.1 L571.3 238.2 L572.7 238.5 L574.1 239.3 L575.5 237.4 L577.0 238.9 L578.4 242.1 L579.8 242.7 L581.2 240.2 L582.6 241.7 L584.0 244.9 L585.4 241.4 L586.8 234.5 L588.2 232.5 L589.7 233.6 L591.1 237.2 L592.5 237.4 L593.9 238.2 L595.3 242.1 L596.7 246.6 L598.1 248.7 L599.5 249.3 L601.0 252.4 L602.4 255.5 L603.8 256.2 L605.2 255.3 L606.6 258.1 L608.0 258.5 L609.4 257.1 L610.8 257.7 L612.2 261.9 L613.7 263.6 L615.1 263.7 L616.5 263.2 L617.9 264.7 L619.3 264.8 L620.7 262.8 L622.2 262.4 L623.6 265.6 L625.0 268.9 L626.4 269.4 L627.8 265.8 L629.2 264.7 L630.6 269.8 L632.0 271.3 L633.4 269.3 L634.8 269.4 L636.7 271.7 L638.6 271.3 L640.0 269.4 L641.4 270.3 L642.8 274.8 L644.3 276.0 L645.7 269.6 L647.1 266.6 L648.5 268.6 L650.0 267.5 L651.4 264.4 L652.8 263.7 L654.2 266.3 L655.6 266.6 L657.0 261.9 L658.5 259.0 L659.9 259.8 L661.3 257.1 L662.7 253.7 L664.1 253.4 L665.5 251.7 L667.0 246.8 L668.4 241.6 L669.8 238.3 L671.6 238.6 L673.5 236.4 L674.5 229.1 L675.4 225.1 L676.3 220.9 L677.3 213.8 L678.2 212.9 L679.2 213.8 L680.2 219.8 L681.1 223.2 L682.0 220.9 L683.0 222.3 L683.9 220.0 L684.8 215.7 L686.2 215.2 L687.7 216.7 L689.1 222.5 L690.5 226.1 L691.5 227.3 L692.4 231.7 L693.8 234.0 L695.2 232.7 L697.1 232.2 L699.0 233.6 L699.9 241.6 L700.8 247.7 L702.2 248.6 L703.7 251.5 L705.1 254.5 L706.5 255.3 L707.5 256.3 L708.4 260.0 L709.3 259.0 L710.3 256.2 L711.7 257.0 L713.1 260.0 L714.0 263.8 L715.0 265.6 L716.4 264.6 L717.8 267.5 L719.7 269.1 L721.6 267.5 L723.0 268.5 L724.4 271.3 L725.8 274.6 L727.2 274.1 L728.6 276.0 L730.0 279.7 L731.5 277.2 L732.9 272.2 L734.3 270.3 L735.7 272.2 L736.7 277.2 L737.6 278.8 L739.0 276.7 L740.4 277.9 L742.3 278.2 L744.2 276.0 L745.6 277.8 L747.0 281.6 L748.4 280.3 L749.8 276.0 L751.2 273.2 L752.6 272.2 L754.0 274.1 L755.5 274.1 L756.9 274.3 L758.3 276.9 L759.7 280.5 L761.1 282.6 L762.5 279.5 L763.9 278.8 L765.3 280.5 L766.8 278.8 L768.6 276.8 L770.5 277.9 L772.4 278.3 L774.3 276.0 L775.7 275.9 L777.1 278.8 L778.5 283.0 L779.9 284.5 L780.8 285.4 L781.8 288.2 L783.2 285.4 L784.7 279.7 L786.5 277.6 L788.4 277.9 L790.3 279.0 L792.2 276.9 L793.6 275.6 L795.0 277.9 L796.9 279.2 L798.8 277.9 L800.2 275.5 L801.6 276.0 L802.5 275.3 L803.5 271.3 L804.5 270.5 L805.4 272.2 L806.8 275.1 L808.2 276.0 L810.1 276.2 L812.0 279.7 L813.4 283.0 L814.8 282.6 L816.2 280.0 L817.6 280.7 L819.0 281.3 L820.4 278.8 L821.8 278.0 L823.3 280.7 L824.7 283.2 L826.1 282.6 L828.0 280.1 L829.8 280.7 L831.7 282.4 L833.6 281.6 L835.0 280.0 L836.4 280.7 L837.8 281.3 L839.3 278.8 L840.7 276.0 L842.1 275.0 L843.5 276.8 L845.0 276.1 L846.0 279.0 L847.0 285.3 L848.0 281.8 L849.1 275.1 L850.7 275.1 L852.2 278.2 L853.7 278.2 L855.2 276.1 L856.2 275.9 L857.3 278.2 L858.3 274.4 L859.3 268.0 L860.8 268.0 L862.4 271.0 L863.9 273.3 L865.4 273.1 L867.0 273.0 L868.5 276.1 L869.9 281.6 L871.2 283.3 L872.4 277.2 L873.6 273.1 L875.2 273.1 L876.7 270.0 L878.2 269.9 L879.7 273.1 L881.8 275.3 L883.8 275.1 L885.8 274.3 L887.9 276.1 L889.5 275.5 L891.0 271.0 L893.0 269.7 L895.1 270.0 L896.6 271.9 L898.1 271.0 L899.2 266.0 L900.2 262.9 L901.7 265.1 L903.2 263.9 L904.8 265.1 L906.3 270.0 L907.8 268.8 L909.4 264.9 L910.4 268.6 L911.4 274.1 L912.5 268.9 L913.5 260.8 L914.5 263.0 L915.5 268.0 L916.5 265.5 L917.5 259.8 L918.5 262.0 L919.6 267.0 L920.6 265.9 L921.6 261.8 L922.7 264.2 L923.7 270.0 L925.2 265.8 L926.7 258.8 L928.2 259.6 L929.8 262.9 L931.3 267.3 L932.9 268.0 L934.4 265.4 L935.9 264.9 L938.0 268.0 L940.0 268.0 L941.5 267.8 L943.1 270.0 L944.6 271.2 L946.1 269.0 L947.7 270.7 L949.2 274.1 L950.8 274.5 L952.3 271.0 L954.3 269.8 L956.4 271.0 L958.4 268.3 L960.4 263.9 L961.5 265.4 L962.5 269.0 L964.0 267.7 L965.6 263.9 L966.6 266.2 L967.6 270.0 L969.2 268.7 L970.7 264.9 L971.7 265.2 L972.7 268.0 L974.2 265.5 L975.8 259.8 L977.8 257.6 L979.9 257.8 L982.0 258.3 L984.0 256.7 L985.5 247.5 L987.0 240.4 L988.0 244.6 L989.1 245.5 L990.6 240.0 L992.1 238.3 L994.2 238.2 L996.2 235.3 L997.8 225.6 L999.3 217.9 L1000.8 217.1 L1002.3 212.8 L1003.8 206.0 L1005.4 201.6 L1006.4 200.1 L1007.4 196.5 L1008.5 188.4 L1009.5 182.2 L1010.9 198.5 L1012.0 200.7 L1013.0 199.5 L1014.3 198.8 L1015.6 201.6 L1016.7 216.4 L1017.7 228.1 L1018.7 227.8 L1019.7 230.2 L1021.2 244.4 L1022.8 255.7 L1023.8 256.2 L1024.8 258.8 L1026.3 259.7 L1027.9 256.7 L1029.4 258.6 L1030.9 262.9 L1032.5 270.5 L1034.0 275.1 L1035.5 270.8 L1037.1 270.0 L1038.6 272.8 L1040.1 272.1 L1041.7 276.4 L1043.2 283.3 L1044.8 282.4 L1046.3 279.2 L1047.8 277.8 L1049.3 279.2 L1050.8 279.6 L1052.4 278.2 L1054.0 278.5 L1055.5 282.3" fill="none" stroke="#5B9BD5" stroke-width="1.85" stroke-linejoin="round"/>
<rect x="68" y="511" width="990" height="2" fill="#808080"/>
<rect x="68.4" y="513" width="2" height="7.6" fill="#808080"/>
<rect x="98.7" y="513" width="2" height="5.8" fill="#808080"/>
<rect x="129.1" y="513" width="2" height="5.8" fill="#808080"/>
<rect x="159.4" y="513" width="2" height="5.8" fill="#808080"/>
<rect x="189.8" y="513" width="2" height="5.8" fill="#808080"/>
<rect x="220.1" y="513" width="2" height="7.6" fill="#808080"/>
<rect x="250.4" y="513" width="2" height="5.8" fill="#808080"/>
<rect x="280.8" y="513" width="2" height="5.8" fill="#808080"/>
<rect x="311.1" y="513" width="2" height="5.8" fill="#808080"/>
<rect x="341.5" y="513" width="2" height="5.8" fill="#808080"/>
<rect x="371.8" y="513" width="2" height="7.6" fill="#808080"/>
<rect x="402.1" y="513" width="2" height="5.8" fill="#808080"/>
<rect x="432.5" y="513" width="2" height="5.8" fill="#808080"/>
<rect x="462.8" y="513" width="2" height="5.8" fill="#808080"/>
<rect x="493.2" y="513" width="2" height="5.8" fill="#808080"/>
<rect x="523.5" y="513" width="2" height="7.6" fill="#808080"/>
<rect x="553.8" y="513" width="2" height="5.8" fill="#808080"/>
<rect x="584.2" y="513" width="2" height="5.8" fill="#808080"/>
<rect x="614.5" y="513" width="2" height="5.8" fill="#808080"/>
<rect x="644.9" y="513" width="2" height="5.8" fill="#808080"/>
<rect x="675.2" y="513" width="2" height="7.6" fill="#808080"/>
<rect x="705.5" y="513" width="2" height="5.8" fill="#808080"/>
<rect x="735.9" y="513" width="2" height="5.8" fill="#808080"/>
<rect x="766.2" y="513" width="2" height="5.8" fill="#808080"/>
<rect x="796.6" y="513" width="2" height="5.8" fill="#808080"/>
<rect x="826.9" y="513" width="2" height="7.6" fill="#808080"/>
<rect x="857.2" y="513" width="2" height="5.8" fill="#808080"/>
<rect x="887.6" y="513" width="2" height="5.8" fill="#808080"/>
<rect x="917.9" y="513" width="2" height="5.8" fill="#808080"/>
<rect x="948.3" y="513" width="2" height="5.8" fill="#808080"/>
<rect x="978.6" y="513" width="2" height="7.6" fill="#808080"/>
<rect x="1008.9" y="513" width="2" height="5.8" fill="#808080"/>
<rect x="1039.3" y="513" width="2" height="5.8" fill="#808080"/>
<!-- peak labels -->
<g class="pk">
<text transform="translate(447 205) scale(1.2 1)">(220)</text>
<text transform="translate(535.5 205) scale(1.2 1)">(311)</text>
<text transform="translate(574.5 223.5) scale(1.2 1)">(222)</text>
<text transform="translate(670.5 201) scale(1.2 1)">(400)</text>
<text transform="translate(990.5 171) scale(1.2 1)">(440)</text>
</g>
<!-- tick labels -->
<text class="tl" text-anchor="middle" style="font-size:27.5px;letter-spacing:1.2px" transform="translate(69.4 550.5) scale(1.3 1)">5</text>
<text class="tl" text-anchor="middle" style="font-size:27.5px;letter-spacing:1.2px" transform="translate(222.7 550.5) scale(1.3 1)">15</text>
<text class="tl" text-anchor="middle" style="font-size:27.5px;letter-spacing:1.2px" transform="translate(373.4 550.5) scale(1.3 1)">25</text>
<text class="tl" text-anchor="middle" style="font-size:27.5px;letter-spacing:1.2px" transform="translate(525.4 550.5) scale(1.3 1)">35</text>
<text class="tl" text-anchor="middle" style="font-size:27.5px;letter-spacing:1.2px" transform="translate(677.5 550.5) scale(1.3 1)">45</text>
<text class="tl" text-anchor="middle" style="font-size:27.5px;letter-spacing:1.2px" transform="translate(829.2 550.5) scale(1.3 1)">55</text>
<text class="tl" text-anchor="middle" style="font-size:27.5px;letter-spacing:1.2px" transform="translate(981.7 550.5) scale(1.3 1)">65</text>
<text class="tl" style="font-size:32px" transform="translate(457 594) scale(1.238 1)">2&#920; ( degree)</text>
<text class="tl" style="font-size:32.4px" transform="translate(29 401) rotate(-90) scale(1 1.2)">Intensity, a.u.</text>
</svg>
</body></html>
